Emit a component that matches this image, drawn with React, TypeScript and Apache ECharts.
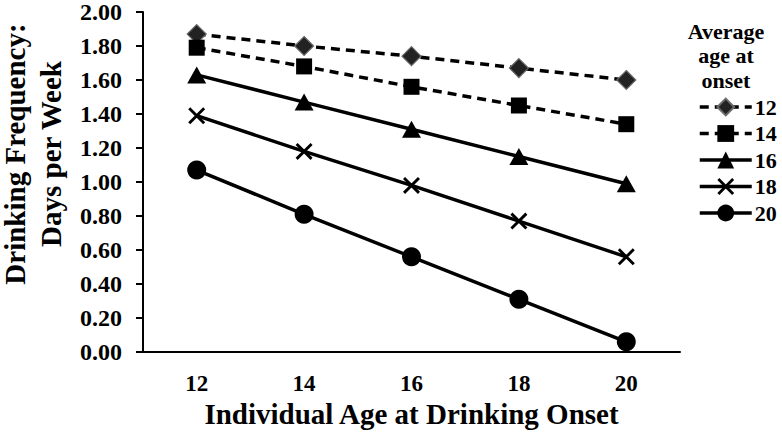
import React, { useEffect, useRef } from "react";
import * as echarts from "echarts";

const categories = ["12", "14", "16", "18", "20"];
const seriesNames = ["12", "14", "16", "18", "20"];
const onset12 = [1.87, 1.8, 1.74, 1.67, 1.6];
const onset14 = [1.79, 1.68, 1.56, 1.45, 1.34];
const onset16 = [1.63, 1.47, 1.31, 1.15, 0.99];
const onset18 = [1.39, 1.18, 0.98, 0.77, 0.56];
const onset20 = [1.07, 0.81, 0.56, 0.31, 0.06];

const FONT = '"Liberation Serif", "Times New Roman", serif';
const CROSS = "path://M0,1.2 L1.2,0 L10,8.8 L8.8,10 Z M8.8,0 L10,1.2 L1.2,10 L0,8.8 Z";

export default function App() {
  const ref = useRef<HTMLDivElement>(null);
  useEffect(() => {
    if (!ref.current) return;
    const chart = echarts.init(ref.current, undefined, { renderer: "svg" });
    const line = (name: string, data: number[], symbol: string, size: number | number[], dashed: boolean, itemStyle: any) => ({
      name,
      type: "line",
      data,
      symbol,
      symbolSize: size,
      lineStyle: { color: "#000", width: 3.5, type: dashed ? [9, 6] : "solid" },
      itemStyle,
      z: 2,
    });
    chart.setOption({
      animation: false,
      backgroundColor: "#fff",
      textStyle: { fontFamily: FONT },
      grid: { left: 143, right: 102, top: 11, bottom: 85, containLabel: false },
      title: {
        text: "Average\nage at\nonset",
        left: 721,
        top: 14,
        textAlign: "center",
        textStyle: { fontFamily: FONT, fontWeight: "bold", fontSize: 22, lineHeight: 24.5, color: "#000" },
      },
      legend: {
        orient: "vertical",
        left: 693,
        top: 91,
        itemWidth: 52,
        itemHeight: 21,
        itemGap: 4.5,
        data: seriesNames,
        lineStyle: { width: 3.5 },
        textStyle: { fontFamily: FONT, fontWeight: "bold", fontSize: 22, lineHeight: 21, color: "#000", padding: [0, 0, 0, -2] },
      },
      xAxis: {
        type: "category",
        data: categories,
        boundaryGap: true,
        name: "Individual Age at Drinking Onset",
        nameLocation: "middle",
        nameGap: 44,
        nameTextStyle: { fontFamily: FONT, fontWeight: "bold", fontSize: 29, color: "#000" },
        axisLine: { lineStyle: { color: "#000", width: 2 } },
        axisTick: { length: 7, lineStyle: { color: "#000", width: 2 } },
        axisLabel: { margin: 20, fontFamily: FONT, fontWeight: "bold", fontSize: 23, color: "#000" },
        splitLine: { show: false },
      },
      yAxis: {
        type: "value",
        min: 0,
        max: 2,
        interval: 0.2,
        axisLine: { show: true, lineStyle: { color: "#000", width: 2 } },
        axisTick: { show: true, length: 7, lineStyle: { color: "#000", width: 2 } },
        axisLabel: {
          margin: 21,
          fontFamily: FONT,
          fontWeight: "bold",
          fontSize: 24,
          color: "#000",
          formatter: (v: number) => v.toFixed(2),
        },
        splitLine: { show: false },
      },
      graphic: [
        {
          type: "text",
          x: 33,
          y: 154,
          rotation: Math.PI / 2,
          style: {
            text: "Drinking Frequency:\nDays per Week",
            fontFamily: FONT,
            fontWeight: "bold",
            fontSize: 29,
            lineHeight: 36,
            fill: "#000",
            align: "center",
            verticalAlign: "middle",
          },
        },
      ],
      series: [
        line(seriesNames[0], onset12, "diamond", 19, true, { color: "#222", borderColor: "#6a6a6a", borderWidth: 1.2 }),
        line(seriesNames[1], onset14, "rect", 16, true, { color: "#000" }),
        line(seriesNames[2], onset16, "triangle", [19, 17], false, { color: "#000" }),
        line(seriesNames[3], onset18, CROSS, 17, false, { color: "#000" }),
        line(seriesNames[4], onset20, "circle", 19, false, { color: "#000" }),
      ],
    });
    return () => chart.dispose();
  }, []);
  return <div ref={ref} style={{ width: 782, height: 437, position: "absolute", left: 0, top: 0 }} />;
}
